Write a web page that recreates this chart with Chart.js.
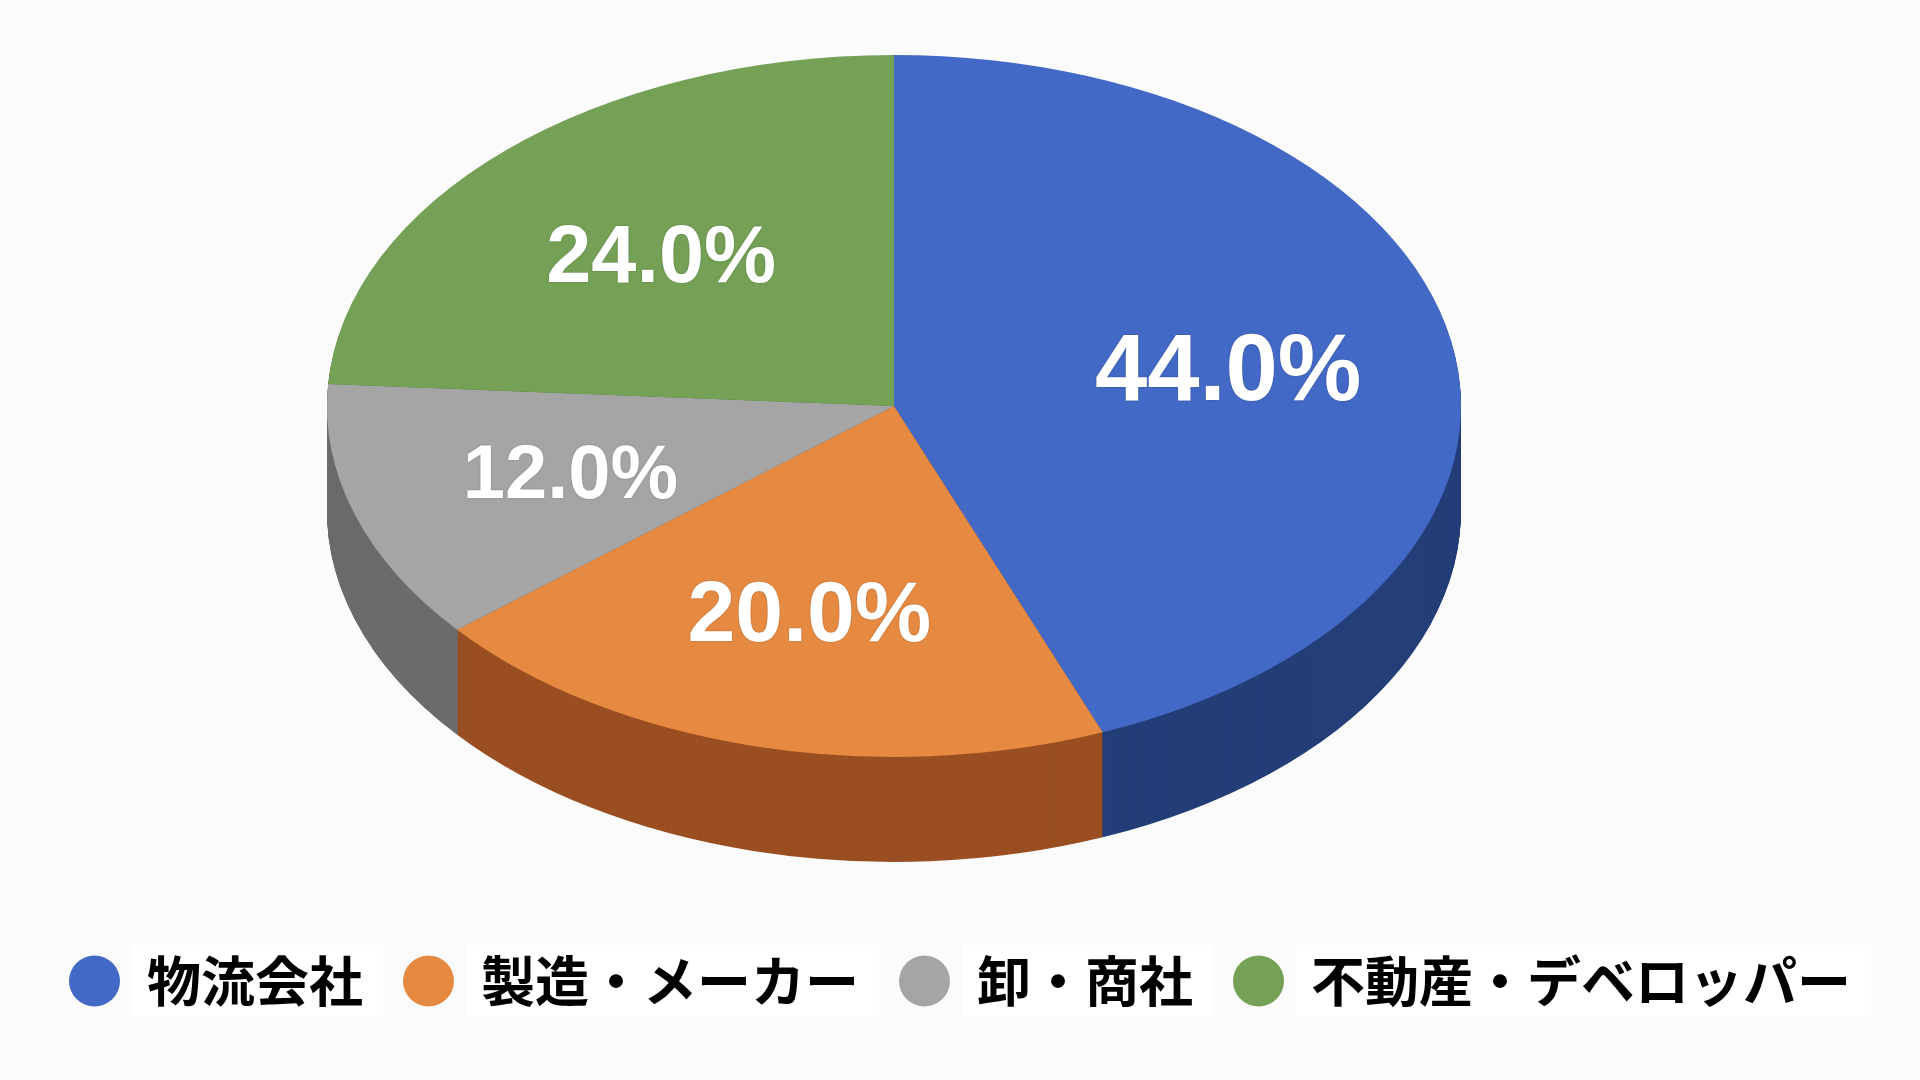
<!DOCTYPE html>
<html>
<head>
<meta charset="utf-8">
<script src="https://cdn.jsdelivr.net/npm/chart.js@4.4.1/dist/chart.umd.min.js"></script>
<style>
  html, body { margin: 0; padding: 0; background: #fbfbfb; }
  canvas { display: block; }
</style>
</head>
<body>
<canvas id="pieChart" width="1920" height="1080"></canvas>
<script>
var labels = ["物流会社", "製造・メーカー", "卸・商社", "不動産・デベロッパー"];
var shares = [44.0, 20.0, 12.0, 24.0];
var topColors = ["#4369c6", "#e68a42", "#a5a5a5", "#74a156"];
var sideColors = ["#243e78", "#9a4f22", "#6b6b6b", "#4b6d36"];
var labelSizes = [94, 86, 76, 81];

// white boxes behind the legend texts
var legendBoxes = {
  id: "legendBoxes",
  beforeDraw: function (chart) {
    var ctx = chart.ctx;
    var lg = chart.legend;
    var boxW = lg.options.labels.pointStyleWidth;
    ctx.save();
    ctx.fillStyle = "#ffffff";
    lg.legendHitBoxes.forEach(function (hb) {
      var x = hb.left + boxW + 12;
      ctx.fillRect(x, hb.top + hb.height / 2 - 36, hb.width - boxW - 12 + 20, 72);
    });
    ctx.restore();
  }
};

// fake 3D: squash the pie into an ellipse and stack darker copies under it
var pie3d = {
  id: "pie3d",
  beforeDatasetsDraw: function (chart, args, opts) {
    var ctx = chart.ctx;
    var arcs = chart.getDatasetMeta(0).data;
    var a0 = arcs[0];
    var project = function () {
      ctx.translate(opts.cx, opts.cy);
      ctx.scale(opts.rx / a0.outerRadius, opts.ry / a0.outerRadius);
      ctx.translate(-a0.x, -a0.y);
    };
    for (var d = opts.depth; d > 0; d--) {
      ctx.save();
      ctx.translate(0, d);
      project();
      arcs.forEach(function (arc, i) {
        var bg = arc.options.backgroundColor;
        arc.options.backgroundColor = sideColors[i];
        arc.draw(ctx);
        arc.options.backgroundColor = bg;
      });
      ctx.restore();
    }
    ctx.save();
    project();
  },
  afterDatasetsDraw: function (chart, args, opts) {
    var ctx = chart.ctx;
    ctx.restore();
    var arcs = chart.getDatasetMeta(0).data;
    ctx.save();
    ctx.fillStyle = "#ffffff";
    ctx.textAlign = "center";
    ctx.textBaseline = "alphabetic";
    ctx.shadowColor = "rgba(0,0,0,0.25)";
    ctx.shadowBlur = 2;
    arcs.forEach(function (arc, i) {
      var mid = (arc.startAngle + arc.endAngle) / 2;
      var x = opts.cx + Math.cos(mid) * opts.rx * 0.6;
      var y = opts.cy + Math.sin(mid) * opts.ry * 0.6;
      var size = labelSizes[i];
      ctx.font = "bold " + size + "px 'Liberation Sans', Arial, sans-serif";
      ctx.fillText(shares[i].toFixed(1) + "%", x, y + size * 0.36);
    });
    ctx.restore();
  }
};

var ctx = document.getElementById("pieChart").getContext("2d");
var pieChart = new Chart(ctx, {
  type: "pie",
  data: {
    labels: labels,
    datasets: [
      {
        data: shares,
        backgroundColor: topColors,
        borderWidth: 0,
        clip: false,
      },
    ],
  },
  options: {
    responsive: false,
    animation: false,
    events: [],
    layout: {
      padding: { left: 0, right: 0, top: 20, bottom: 62 },
    },
    plugins: {
      tooltip: { enabled: false },
      legend: {
        position: "bottom",
        labels: {
          usePointStyle: true,
          pointStyle: "circle",
          pointStyleWidth: 51,
          boxHeight: 36,
          color: "#000000",
          padding: 40,
          font: {
            family: "'Noto Sans CJK JP', 'Noto Sans', sans-serif",
            size: 54,
            weight: "bold",
          },
        },
      },
      pie3d: { cx: 894, cy: 406, rx: 567, ry: 351, depth: 105 },
    },
  },
  plugins: [legendBoxes, pie3d],
});
</script>
</body>
</html>
